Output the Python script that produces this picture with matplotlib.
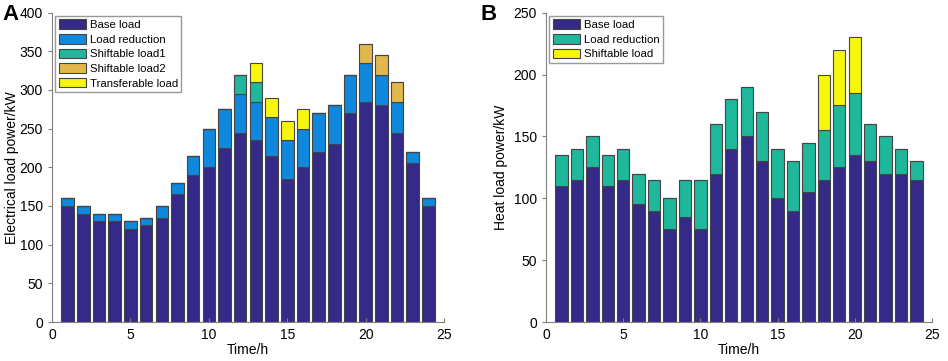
import numpy as np
from matplotlib import pyplot as plt

plt.rcParams['font.family'] = ['Liberation Sans', 'DejaVu Sans']

hours = np.arange(1, 25)

# panel A: electrical load, kW
elec_base = [150, 140, 130, 130, 120, 125, 135, 165, 190, 200, 225, 245,
             235, 215, 185, 200, 220, 230, 270, 285, 280, 245, 205, 150]
elec_reduction = [10, 10, 10, 10, 10, 10, 15, 15, 25, 50, 50, 50,
                  50, 50, 50, 50, 50, 50, 50, 50, 40, 40, 15, 10]
elec_shift1 = [0] * 11 + [25, 25] + [0] * 11
elec_shift2 = [0] * 19 + [25, 25, 25] + [0, 0]
elec_transfer = [0] * 12 + [25, 25, 25, 25] + [0] * 8

# panel B: heat load, kW
heat_base = [110, 115, 125, 110, 115, 95, 90, 75, 85, 75, 120, 140,
             150, 130, 100, 90, 105, 115, 125, 135, 130, 120, 120, 115]
heat_reduction = [25, 25, 25, 25, 25, 25, 25, 25, 30, 40, 40, 40,
                  40, 40, 40, 40, 40, 40, 50, 50, 30, 30, 20, 15]
heat_shift = [0] * 17 + [45, 45, 45] + [0] * 4

c_base = '#352a87'
c_red = '#0f88dd'
c_teal = '#1fb89c'
c_gold = '#e2b84e'
c_yellow = '#f7f70e'


def stacked(ax, series, colors, labels):
    bottom = np.zeros(len(hours))
    for vals, col, lab in zip(series, colors, labels):
        vals = np.array(vals, dtype=float)
        ax.bar(hours, vals, 0.8, bottom=bottom, color=col, edgecolor='#454545',
               linewidth=0.8, label=lab)
        bottom += vals


def style(ax, ymax, ylabel, pad):
    ax.set_xlim(0, 25)
    ax.set_ylim(0, ymax)
    ax.set_xticks([0, 5, 10, 15, 20, 25])
    ax.spines['top'].set_visible(False)
    ax.spines['right'].set_visible(False)
    for s in ('left', 'bottom'):
        ax.spines[s].set_color('#808080')
        ax.spines[s].set_linewidth(0.8)
    ax.tick_params(axis='y', direction='out', length=3, color='#808080', labelsize=10)
    ax.tick_params(axis='x', direction='in', length=3, color='#808080', labelsize=10, pad=4)
    ax.set_xlabel('Time/h', fontsize=10, labelpad=1)
    ax.set_ylabel(ylabel, fontsize=10, labelpad=pad)
    leg = ax.legend(loc='upper left', fontsize=8.2, frameon=True, fancybox=False,
                    edgecolor='#808080', handlelength=2.4, handleheight=0.9,
                    borderpad=0.3, labelspacing=0.35, handletextpad=0.3,
                    borderaxespad=0.3)
    leg.get_frame().set_linewidth(1.0)


fig = plt.figure(figsize=(9.48, 3.61), dpi=100)
axA = fig.add_axes([0.0549, 0.108, 0.4135, 0.857])
axB = fig.add_axes([0.576, 0.108, 0.407, 0.857])

stacked(axA, [elec_base, elec_reduction, elec_shift1, elec_shift2, elec_transfer],
        [c_base, c_red, c_teal, c_gold, c_yellow],
        ['Base load', 'Load reduction', 'Shiftable load1', 'Shiftable load2', 'Transferable load'])
style(axA, 400, 'Electrical load power/kW', 0.5)

stacked(axB, [heat_base, heat_reduction, heat_shift],
        [c_base, c_teal, c_yellow],
        ['Base load', 'Load reduction', 'Shiftable load'])
style(axB, 250, 'Heat load power/kW', 4)

fig.text(0.003, 0.96, 'A', fontsize=16, fontweight='bold', va='center')
fig.text(0.507, 0.96, 'B', fontsize=16, fontweight='bold', va='center')

fig.savefig('out.png', dpi=100)
